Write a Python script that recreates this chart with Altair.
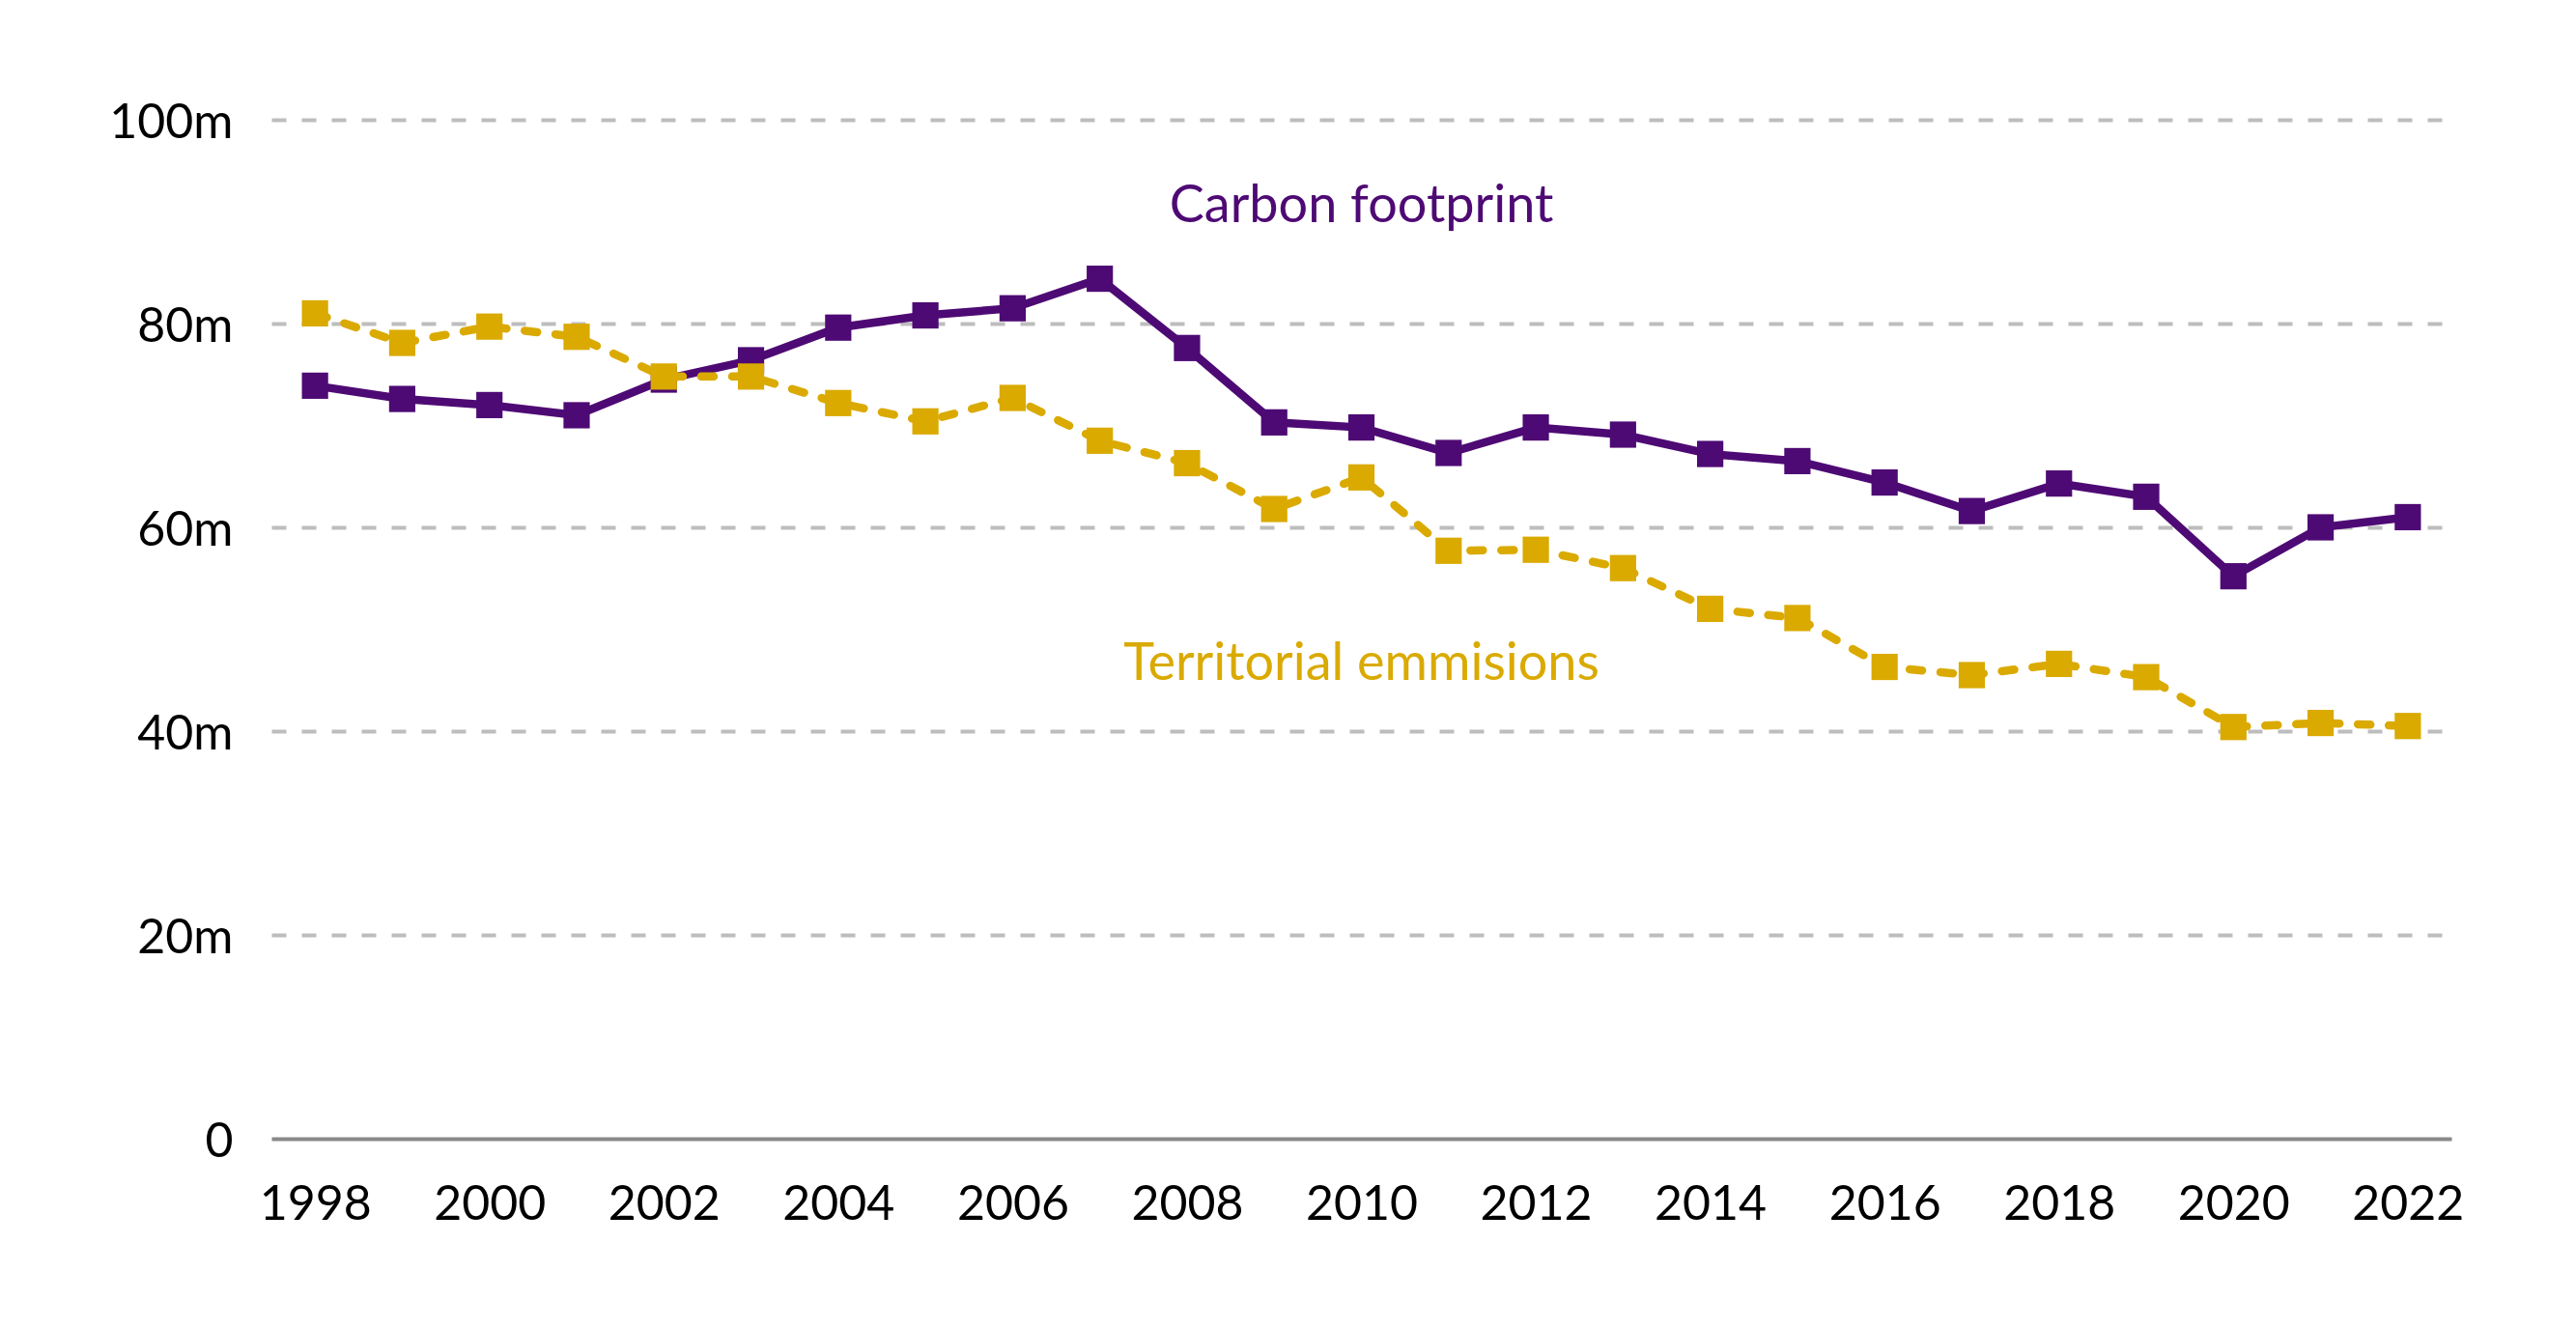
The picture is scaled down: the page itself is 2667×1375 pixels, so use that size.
import altair as alt
import pandas as pd

years = list(range(1998, 2023))
carbon_footprint = [73.9, 72.6, 72.0, 71.0, 74.5, 76.4, 79.6, 80.8, 81.5, 84.4,
                    77.6, 70.3, 69.8, 67.3, 69.8, 69.1, 67.2, 66.5, 64.4, 61.6,
                    64.3, 63.0, 55.2, 60.0, 61.0]
territorial = [81.0, 78.1, 79.7, 78.7, 74.8, 74.8, 72.2, 70.4, 72.7, 68.5,
               66.3, 61.8, 64.9, 57.7, 57.8, 56.0, 52.0, 51.1, 46.3, 45.5,
               46.6, 45.3, 40.4, 40.8, 40.5]
y_ticks = [0, 20, 40, 60, 80, 100]
x_ticks = list(range(1998, 2023, 2))
label_names = ["Carbon footprint", "Territorial emmisions"]
label_years = [2010, 2010]
label_values = [90, 45]

PURPLE = "#4E0A74"
GOLD = "#DAAA00"
FONT = "Lato"

df_cf = pd.DataFrame({"year": years, "value": carbon_footprint})
df_te = pd.DataFrame({"year": years, "value": territorial})
df_cf_lab = pd.DataFrame({"year": [label_years[0]], "value": [label_values[0]], "label": [label_names[0]]})
df_te_lab = pd.DataFrame({"year": [label_years[1]], "value": [label_values[1]], "label": [label_names[1]]})

X = alt.X("year:Q",
          scale=alt.Scale(domain=[1997.5, 2022.5], nice=False, zero=False),
          axis=alt.Axis(values=x_ticks, format="d", title=None, grid=False,
                        ticks=False, labelPadding=43, labelFontSize=50,
                        labelFont=FONT, labelColor="#000000",
                        domainColor="#898989", domainWidth=4,
                        labelFlush=False, labelOverlap=False))
Y = alt.Y("value:Q",
          scale=alt.Scale(domain=[0, 100], nice=False),
          axis=alt.Axis(values=y_ticks, title=None, domain=False, ticks=False,
                        labelExpr="datum.value == 0 ? '0' : datum.value + 'm'",
                        labelPadding=40, labelFontSize=50, labelFont=FONT,
                        labelColor="#000000", labelOffset=3,
                        grid=True, gridColor="#BDBDBD", gridWidth=4,
                        gridDash=[15, 16],
                        gridOpacity={"condition": {"test": "datum.value === 0", "value": 0}, "value": 1}))

cf_line = alt.Chart(df_cf).mark_line(color=PURPLE, strokeWidth=8.5).encode(x=X, y=Y)
cf_pts = alt.Chart(df_cf).mark_point(shape="square", filled=True, size=740,
                                     color=PURPLE, opacity=1).encode(x=X, y=Y)
te_line = alt.Chart(df_te).mark_line(color=GOLD, strokeWidth=8.5,
                                     strokeDash=[13, 19], strokeCap="round").encode(x=X, y=Y)
te_pts = alt.Chart(df_te).mark_point(shape="square", filled=True, size=740,
                                     color=GOLD, opacity=1).encode(x=X, y=Y)
cf_text = alt.Chart(df_cf_lab).mark_text(color=PURPLE, fontSize=54, font=FONT,
                                         align="center", baseline="alphabetic").encode(
    x=X, y=Y, text="label:N")
te_text = alt.Chart(df_te_lab).mark_text(color=GOLD, fontSize=54, font=FONT,
                                         align="center", baseline="alphabetic").encode(
    x=X, y=Y, text="label:N")

chart = alt.layer(cf_line, cf_pts, te_line, te_pts, cf_text, te_text).properties(
    width=2257, height=1055,
    autosize=alt.AutoSizeParams(type="none"),
    padding={"left": 273, "top": 116, "right": 121, "bottom": 188},
    background="white",
).configure_view(stroke=None)

chart.save("out.html", embed_options={"renderer": "svg", "actions": False})
